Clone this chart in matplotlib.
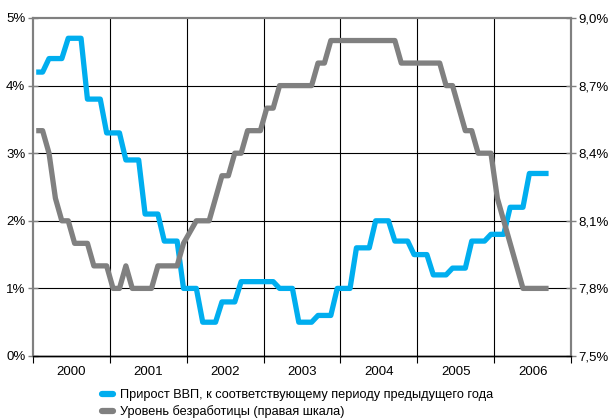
import numpy as np
import matplotlib
matplotlib.use("Agg")
import matplotlib.pyplot as plt
from matplotlib.lines import Line2D

plt.rcParams['font.family'] = ['Liberation Sans', 'DejaVu Sans']

# Monthly series, January 2000 - September 2006
gdp_growth = (
    [4.2] * 2 + [4.4] * 3 + [4.7] * 3 + [3.8] * 3 + [3.3] * 3 + [2.9] * 3 +
    [2.1] * 3 + [1.7] * 3 + [1.0] * 3 + [0.5] * 3 + [0.8] * 3 + [1.1] * 6 +
    [1.0] * 3 + [0.5] * 3 + [0.6] * 3 + [1.0] * 3 + [1.6] * 3 + [2.0] * 3 +
    [1.7] * 3 + [1.5] * 3 + [1.2] * 3 + [1.3] * 3 + [1.7] * 3 + [1.8] * 3 +
    [2.2] * 3 + [2.7] * 4
)
unemployment = (
    [8.5, 8.5, 8.4, 8.2, 8.1, 8.1, 8.0, 8.0, 8.0, 7.9, 7.9, 7.9,
     7.8, 7.8, 7.9, 7.8, 7.8, 7.8, 7.8, 7.9, 7.9, 7.9, 7.9, 8.0,
     8.05, 8.1, 8.1, 8.1, 8.2, 8.3, 8.3, 8.4, 8.4, 8.5, 8.5, 8.5,
     8.6, 8.6] + [8.7] * 6 + [8.8] * 2 + [8.9] * 11 + [8.8] * 7 +
    [8.7, 8.7, 8.6, 8.5, 8.5, 8.4, 8.4, 8.4, 8.2, 8.1, 8.0, 7.9, 7.8] +
    [7.8] * 4
)
years = ['2000', '2001', '2002', '2003', '2004', '2005', '2006']
left_ticks = [0, 1, 2, 3, 4, 5]
right_ticks = [7.5, 7.8, 8.1, 8.4, 8.7, 9.0]

label_gdp = 'Прирост ВВП, к соответствующему периоду предыдущего года'
label_unemp = 'Уровень безработицы (правая шкала)'

blue = '#00aeef'
grey = '#808080'

fig = plt.figure(figsize=(6.09, 4.18), dpi=100)
ax = fig.add_axes([33 / 609, 62 / 418, 538 / 609, 338 / 418])
ax2 = ax.twinx()

months = np.arange(len(gdp_growth))
ax.plot(months, gdp_growth, color=blue, lw=3.8, solid_joinstyle='round',
        solid_capstyle='butt', zorder=3)
ax2.plot(np.arange(len(unemployment)), unemployment, color=grey, lw=3.8,
         solid_joinstyle='round', solid_capstyle='butt', zorder=3)

n_months = 12 * len(years)
ax.set_xlim(-0.5, n_months - 0.5)
ax.set_ylim(0, 5)
ax2.set_ylim(7.5, 9.0)

# year boundaries as major ticks, year names centred between them
bounds = np.arange(0, n_months + 1, 12) - 0.5
ax.set_xticks(bounds)
ax.set_xticklabels([''] * len(bounds))
ax.set_xticks(bounds[:-1] + 6, minor=True)
ax.set_xticklabels(years, minor=True)
ax.tick_params(axis='x', which='major', direction='out', length=5, color='black', width=0.8)
ax.tick_params(axis='x', which='minor', length=0, pad=7, labelsize=9.5)

ax.set_yticks(left_ticks)
ax.set_yticklabels([f'{v}%' for v in left_ticks])
ax.tick_params(axis='y', direction='inout', length=7, color=grey, width=1, pad=2, labelsize=9.5)

ax2.set_yticks(right_ticks)
ax2.set_yticklabels([f'{v:.1f}%'.replace('.', ',') for v in right_ticks])
ax2.tick_params(axis='y', direction='inout', length=7, color=grey, width=1, pad=2, labelsize=9.5)

for b in bounds[1:-1]:
    ax.axvline(b, color='black', lw=0.8, zorder=1)
for t in left_ticks[1:-1]:
    ax.axhline(t, color='black', lw=0.8, zorder=1)

for a in (ax, ax2):
    for side in ('left', 'right', 'top'):
        a.spines[side].set_color(grey)
        a.spines[side].set_linewidth(1.5)
    a.spines['bottom'].set_color('black')
    a.spines['bottom'].set_linewidth(1.0)

ax2.set_zorder(ax.get_zorder() + 1)
ax2.patch.set_visible(False)

handles = [
    Line2D([], [], color=blue, lw=4.5, solid_capstyle='round'),
    Line2D([], [], color=grey, lw=4.5, solid_capstyle='round'),
]
fig.legend(handles, [label_gdp, label_unemp], loc='upper left',
           bbox_to_anchor=(96 / 609, 1 - 383 / 418), frameon=False,
           handlelength=0.8, handletextpad=0.6, labelspacing=0.3,
           borderpad=0, fontsize=9.2)

fig.savefig('out.png', dpi=100)
